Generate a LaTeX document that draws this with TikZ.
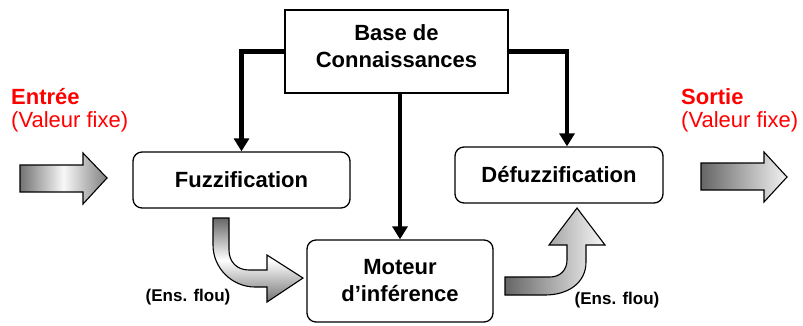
\documentclass[tikz,border=0pt]{standalone}
\usepackage{fontspec}
\setmainfont{Liberation Sans}
\usetikzlibrary{arrows.meta}
\begin{document}
\begin{tikzpicture}[x=1pt,y=-1pt,
  box/.style={draw, line width=1.3pt, rounded corners=9pt, fill=white, inner sep=0pt,
    font=\fontsize{22}{27}\selectfont\bfseries, align=center},
  basebox/.style={draw, line width=1.3pt, fill=white, inner sep=0pt},
  boxtext/.style={inner sep=0pt, font=\fontsize{22}{27}\selectfont\bfseries, align=center},
  redbold/.style={inner sep=0pt, anchor=west, text=red, font=\fontsize{22}{26}\selectfont\bfseries},
  redplain/.style={inner sep=0pt, anchor=west, text=red, font=\fontsize{22}{26}\selectfont},
  enslbl/.style={inner sep=0pt, font=\fontsize{17}{20}\selectfont\bfseries},
  thickarrow/.style={line width=4.5pt, -{Triangle[width=15pt,length=13pt]}},
  blockarrow/.style={draw=black, line width=1.1pt, line join=miter}
]
\useasboundingbox (0,0) rectangle (803,325);

% boxes
\node[basebox, minimum width=223pt, minimum height=83pt] (base) at (396.5,51.5) {};
\node[boxtext] (baselabel) at (396.5,46.5) {Base de\\Connaissances};
\node[box, minimum width=217pt, minimum height=56pt] (fuzz) at (241.5,180) {Fuzzification};
\node[box, minimum width=208pt, minimum height=56pt] (defuzz) at (559,175) {Défuzzification};
\node[box, minimum width=186pt, minimum height=82pt] (moteur) at (400,281) {Moteur\\d’inférence};

% thick connectors
\draw[thickarrow] (base.west) -| (fuzz.north);
\draw[thickarrow] (base.east) -| ([xshift=8pt]defuzz.north);
\draw[thickarrow] (moteur.north |- base.south) -- (moteur.north);

% input / output block arrows
\path[blockarrow, left color=black!55, right color=black!50, middle color=black!3]
  (20,165) -- (83,165) -- (83,153) -- (107,178) -- (83,204) -- (83,192) -- (20,192) -- cycle;
\path[blockarrow, left color=black!60, right color=black!5]
  (701,163) -- (764,163) -- (764,152) -- (787,177) -- (764,202) -- (764,190) -- (701,190) -- cycle;

% curved arrow fuzzification -> moteur
\path[blockarrow, top color=black!60, bottom color=black!55, middle color=white]
  (213,218) -- (229,218) -- (229,250) .. controls (229,262) and (237,270) .. (249,270)
  -- (267,270) -- (267,255) -- (303,278) -- (267,302) -- (267,287) -- (255,287)
  .. controls (232,287) and (213,268) .. (213,245) -- cycle;

% curved arrow moteur -> defuzzification
\path[blockarrow, left color=black!60, right color=black!3]
  (505,277) -- (550,277) .. controls (560,277) and (567,270) .. (567,260)
  -- (567,245) -- (549,245) -- (577,208) -- (605,245) -- (586,245) -- (586,262)
  .. controls (586,283) and (568,295) .. (545,295) -- (505,295) -- cycle;

% labels
\node[redbold] (entree) at (11,97) {Entrée};
\node[redplain] (vfin) at (11,122) {(Valeur fixe)};
\node[redbold] (sortie) at (681,97) {Sortie};
\node[redplain] (vfout) at (681,122) {(Valeur fixe)};
\node[enslbl] (ens1) at (188,297) {(Ens. flou)};
\node[enslbl] (ens2) at (617,300) {(Ens. flou)};
\end{tikzpicture}
\end{document}
